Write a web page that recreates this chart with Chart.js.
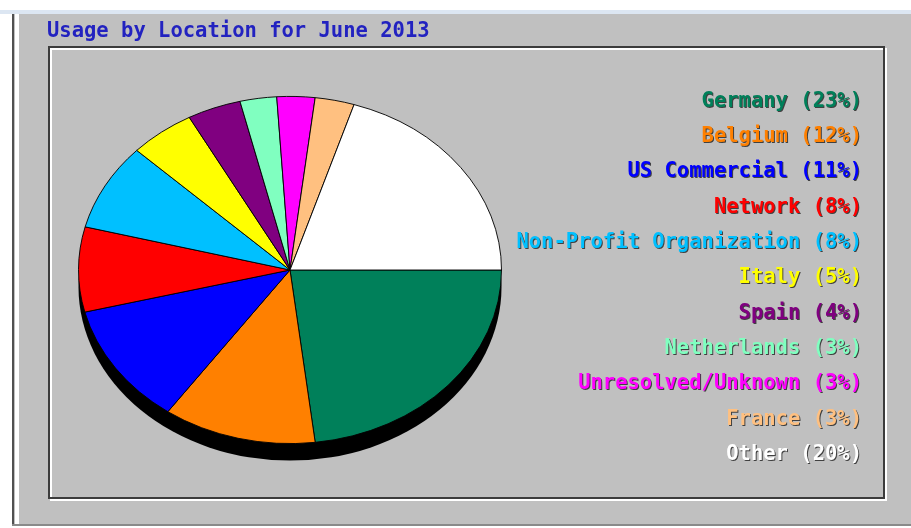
<!DOCTYPE html>
<html>
<head>
<meta charset="utf-8">
<script src="https://cdn.jsdelivr.net/npm/chart.js@4/dist/chart.umd.min.js"></script>
<style>
  html, body { margin: 0; padding: 0; background: #ffffff; }
  #wrap { width: 911px; height: 528px; position: relative; }
</style>
</head>
<body>
<div id="wrap"><canvas id="usageByLocation" width="911" height="528"></canvas></div>
<script>
// values
const categories = ['Germany', 'Belgium', 'US Commercial', 'Network', 'Non-Profit Organization',
                    'Italy', 'Spain', 'Netherlands', 'Unresolved/Unknown', 'France', 'Other'];
const percents = [23.1, 11.7, 11.3, 7.9, 8.1, 5.0, 4.1, 2.8, 2.9, 3.0, 20.1];
const sliceColors = ['#00805a', '#ff8000', '#0000ff', '#ff0000', '#00c0ff',
                     '#ffff00', '#800080', '#80ffc0', '#ff00ff', '#ffc080', '#ffffff'];
const chartTitle = 'Usage by Location for June 2013';

const PIE_SQUASH = 174 / 212;   // webalizer pies are ellipses
const PIE_DEPTH = 17;
const FONT = 'bold 20.5px "DejaVu Sans Mono"';

// grey panel, inset box and title
const panelPlugin = {
    id: 'panel',
    beforeDraw(chart) {
        const ctx = chart.ctx;
        ctx.save();
        ctx.fillStyle = '#ffffff';
        ctx.fillRect(0, 0, 911, 528);
        ctx.fillStyle = '#dce6f2';
        ctx.fillRect(0, 10, 911, 4);
        ctx.fillStyle = '#c0c0c0';
        ctx.fillRect(12, 14, 899, 512);
        ctx.fillStyle = '#505050';
        ctx.fillRect(12, 14, 2, 512);
        ctx.fillStyle = '#ffffff';
        ctx.fillRect(15, 14, 4, 512);
        ctx.fillStyle = '#8a8a8a';
        ctx.fillRect(12, 524, 899, 2);

        // etched inner box
        ctx.lineWidth = 2;
        ctx.strokeStyle = '#ffffff';
        ctx.strokeRect(51, 49, 835, 451);
        ctx.strokeStyle = '#3c3c3c';
        ctx.strokeRect(49, 47, 835, 451);

        ctx.font = FONT;
        ctx.textBaseline = 'middle';
        ctx.textAlign = 'left';
        ctx.fillStyle = '#2222c0';
        ctx.fillText(chartTitle, 47, 32);
        ctx.restore();
    }
};

// squash the pie into an ellipse and give it a black 3D rim
const ellipsePlugin = {
    id: 'ellipse',
    beforeDatasetsDraw(chart) {
        const arc = chart.getDatasetMeta(0).data[0];
        const cx = arc.x, cy = arc.y, r = arc.outerRadius;
        const ctx = chart.ctx;
        ctx.save();
        ctx.fillStyle = '#000000';
        ctx.beginPath();
        ctx.ellipse(cx, cy + PIE_DEPTH, r, r * PIE_SQUASH, 0, 0, Math.PI * 2);
        ctx.fill();
        ctx.translate(cx, cy);
        ctx.scale(1, PIE_SQUASH);
        ctx.translate(-cx, -cy);
    },
    afterDatasetsDraw(chart) {
        chart.ctx.restore();
    }
};

// right aligned coloured labels like webalizer
const labelPlugin = {
    id: 'sliceLabels',
    afterDraw(chart) {
        const ctx = chart.ctx;
        ctx.save();
        ctx.font = FONT;
        ctx.textAlign = 'right';
        ctx.textBaseline = 'middle';
        categories.forEach((name, i) => {
            const text = name + ' (' + Math.round(percents[i]) + '%)';
            const y = 101.5 + i * 35.3;
            ctx.fillStyle = '#404040';
            ctx.fillText(text, 863, y + 1);
            ctx.fillStyle = sliceColors[i];
            ctx.fillText(text, 862, y);
        });
        ctx.restore();
    }
};

const canvasContext = document.getElementById('usageByLocation').getContext('2d');
const usageChart = new Chart(canvasContext, {
    type: 'pie',
    data: {
        labels: categories,
        datasets: [{
            data: percents,
            backgroundColor: sliceColors,
            borderColor: '#000000',
            borderWidth: 1
        }]
    },
    options: {
        responsive: false,
        animation: false,
        rotation: 90,
        layout: { padding: { left: 78, right: 409, top: 58, bottom: 46 } },
        plugins: {
            legend: { display: false },
            tooltip: { enabled: false },
            title: { display: false }
        }
    },
    plugins: [panelPlugin, ellipsePlugin, labelPlugin]
});
</script>
</body>
</html>
